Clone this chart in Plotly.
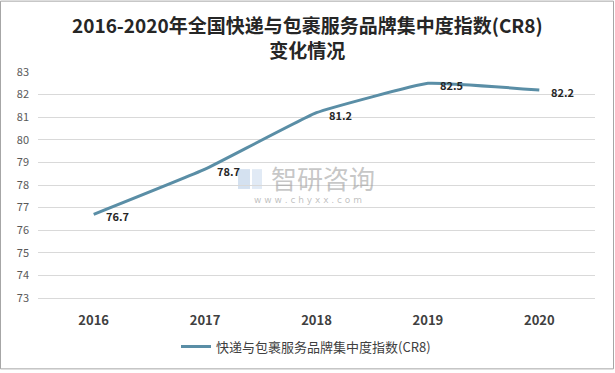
import plotly.graph_objects as go

years = ["2016", "2017", "2018", "2019", "2020"]
cr8 = [76.7, 78.7, 81.2, 82.5, 82.2]
series_name = "快递与包裹服务品牌集中度指数(CR8)"
title_line1 = "2016-2020年全国快递与包裹服务品牌集中度指数(CR8)"
title_line2 = "变化情况"
y_ticks = list(range(73, 84))

W, H = 615, 373
ML, MR, MT, MB = 38, 20, 72, 73
pw = W - ML - MR
ph = H - MT - MB

FONT = "Noto Sans CJK SC"
LINE_COLOR = "#5a8ea6"

fig = go.Figure()
fig.add_trace(go.Scatter(
    x=years, y=cr8, mode="lines", name=series_name,
    line=dict(color=LINE_COLOR, width=3, shape="spline", smoothing=0.3),
))

annotations = []
for i, yv in enumerate(cr8):
    annotations.append(dict(
        x=i, y=yv, xref="x", yref="y", text=f"<b>{yv}</b>",
        showarrow=False, xanchor="left", yanchor="middle", xshift=10, yshift=-2,
        font=dict(family=FONT, size=11, color="#262626"),
    ))

def px_x(v):
    return (v - ML) / pw

def px_y(v):
    return (H - MB - v) / ph

# title (two lines, one text block)
annotations.append(dict(
    x=px_x(307), y=px_y(37), xref="paper", yref="paper",
    text=f"<b>{title_line1}<br>{title_line2}</b>", showarrow=False,
    xanchor="center", yanchor="middle", align="center",
    font=dict(family=FONT, size=19, color="#262626"),
))

# watermark
annotations.append(dict(
    x=px_x(323), y=px_y(178), xref="paper", yref="paper",
    text="智研咨询", showarrow=False, xanchor="center", yanchor="middle",
    font=dict(family=FONT, size=26, color="rgba(150,150,150,0.55)"),
))
annotations.append(dict(
    x=px_x(308), y=px_y(201), xref="paper", yref="paper",
    text="w w w . c h y x x . c o m", showarrow=False, xanchor="center", yanchor="middle",
    font=dict(family="DejaVu Sans", size=9, color="rgba(150,150,150,0.6)"),
))

shapes = [
    # outer border
    dict(type="rect", xref="paper", yref="paper",
         x0=px_x(0.5), x1=px_x(W - 1.5), y0=px_y(H - 1.5), y1=px_y(0.5),
         line=dict(color="#a6a6a6", width=1), layer="above"),
    # watermark logo blocks
    dict(type="rect", xref="paper", yref="paper",
         x0=px_x(238), x1=px_x(250), y0=px_y(190), y1=px_y(170),
         line=dict(width=0), fillcolor="rgba(170,195,225,0.5)", layer="below"),
    dict(type="rect", xref="paper", yref="paper",
         x0=px_x(252), x1=px_x(262), y0=px_y(190), y1=px_y(170),
         line=dict(width=0), fillcolor="rgba(170,195,225,0.35)", layer="below"),
]

fig.update_layout(
    width=W, height=H,
    margin=dict(l=ML, r=MR, t=MT, b=MB, pad=0),
    paper_bgcolor="white", plot_bgcolor="white",
    font=dict(family=FONT, color="#595959"),
    showlegend=True,
    legend=dict(orientation="h", x=px_x(306), xanchor="center", y=px_y(349), yanchor="middle",
                font=dict(family=FONT, size=13, color="#404040"),
                itemwidth=30, bgcolor="rgba(0,0,0,0)"),
    xaxis=dict(type="category", range=[-0.5, 4.5], showgrid=False, zeroline=False,
               showline=True, linecolor="#d9d9d9", linewidth=1, ticks="",
               tickfont=dict(family=FONT, size=13, color="#404040"),
               ticklabelstandoff=10, fixedrange=True,
               tickprefix="<b>", ticksuffix="</b>"),
    yaxis=dict(range=[73, 83], tickvals=y_ticks, showgrid=True, gridcolor="#d9d9d9",
               gridwidth=1, zeroline=False, showline=False, ticks="",
               tickfont=dict(family=FONT, size=11, color="#595959"),
               ticklabelstandoff=8, fixedrange=True),
    annotations=annotations,
    shapes=shapes,
)

fig.write_html("out.html", config={"displayModeBar": False},
               post_script="document.body.style.margin='0';document.body.style.padding='0';")
